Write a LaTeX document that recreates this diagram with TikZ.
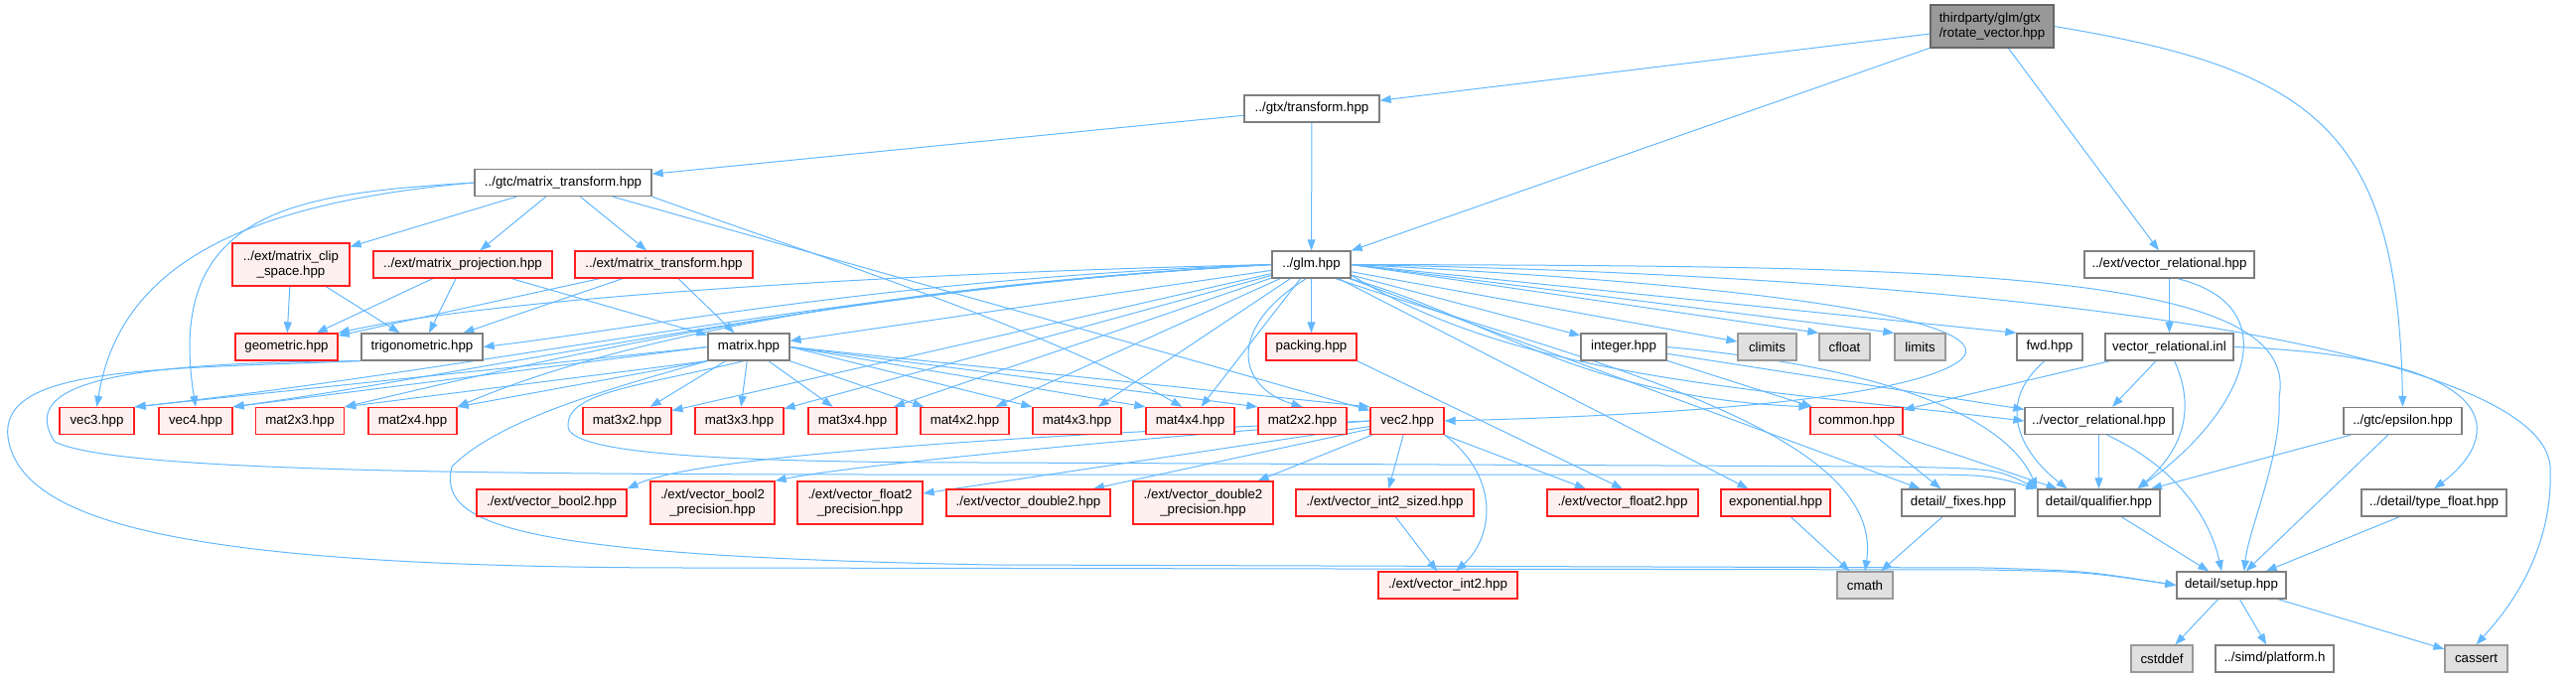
\documentclass[tikz,border=0pt]{standalone}
\usepackage{fontspec}
\setmainfont{Liberation Sans}
\usepackage{xcolor}
\usepackage{tikz}
\usetikzlibrary{arrows.meta, backgrounds}
\definecolor{doxy-edge}{HTML}{63B8FF}
\definecolor{doxy-red}{HTML}{FF2020}
\definecolor{doxy-pink}{HTML}{FFF0F0}
\definecolor{doxy-border}{HTML}{7F7F7F}
\definecolor{doxy-sys}{HTML}{E0E0E0}
\definecolor{doxy-sysline}{HTML}{999999}
\definecolor{doxy-root}{HTML}{999999}
\newcommand{\hdrfont}{\fontsize{13.3}{15.5}\selectfont}
\tikzset{
  hdr/.style={draw, line width=1.3pt, minimum height=27pt, inner sep=2pt, align=center, font=\hdrfont},
  plainhdr/.style={hdr, draw=doxy-border, fill=white},
  trunc/.style={hdr, draw=doxy-red, fill=doxy-pink},
  syshdr/.style={hdr, draw=doxy-sysline, fill=doxy-sys},
  roothdr/.style={hdr, draw=doxy-border!80!black, fill=doxy-root, minimum height=43pt, align=left},
  twoline/.style={minimum height=43pt},
  incl/.style={draw=doxy-edge, line width=1pt, -{Triangle[length=11pt, width=8pt]}}
}

\begin{document}
\begin{tikzpicture}[x=1pt, y=-1pt]
  \useasboundingbox (0,0) rectangle (2594,683);
  % top of the graph
  \node[roothdr, minimum width=124pt] (root) at (2006,26.5) {thirdparty/glm/gtx\\/rotate\_vector.hpp};
  \node[plainhdr, minimum width=136pt] (gtxtransform) at (1321,109.5) {../gtx/transform.hpp};
  \node[plainhdr, minimum width=178pt] (gtcmt) at (567,184) {../gtc/matrix\_transform.hpp};
  % row 3
  \node[trunc, twoline, minimum width=118pt] (clipspace) at (293,266.5) {../ext/matrix\_clip\\\_space.hpp};
  \node[trunc, minimum width=180pt] (projection) at (466,266.5) {../ext/matrix\_projection.hpp};
  \node[trunc, minimum width=179pt] (extmt) at (668.5,266.5) {../ext/matrix\_transform.hpp};
  \node[plainhdr, minimum width=79pt] (glm) at (1320.5,266.5) {../glm.hpp};
  \node[plainhdr, minimum width=171pt] (extvr) at (2184.5,266.5) {../ext/vector\_relational.hpp};
  % row 4
  \node[trunc, minimum width=103pt] (geometric) at (288.5,349.5) {geometric.hpp};
  \node[plainhdr, minimum width=122pt] (trigonometric) at (425,349.5) {trigonometric.hpp};
  \node[plainhdr, minimum width=82pt] (matrix) at (754,349.5) {matrix.hpp};
  \node[trunc, minimum width=91pt] (packing) at (1320.5,349.5) {packing.hpp};
  \node[plainhdr, minimum width=86pt] (integer) at (1635,349.5) {integer.hpp};
  \node[syshdr, minimum width=59pt] (climits) at (1779.5,349.5) {climits};
  \node[syshdr, minimum width=51pt] (cfloat) at (1857.5,349.5) {cfloat};
  \node[syshdr, minimum width=51pt] (limits) at (1933.5,349.5) {limits};
  \node[plainhdr, minimum width=66pt] (fwd) at (2064,349.5) {fwd.hpp};
  \node[plainhdr, minimum width=129pt] (vrinl) at (2184.5,349.5) {vector\_relational.inl};
  % row 5
  \node[trunc, minimum width=75pt] (vec3) at (97.5,424) {vec3.hpp};
  \node[trunc, minimum width=74pt] (vec4) at (197,424) {vec4.hpp};
  \foreach \n/\x in {2x3/302, 2x4/415.5, 3x2/631.5, 3x3/744.5, 3x4/858.5, 4x2/971.5, 4x3/1084.5, 4x4/1198.5, 2x2/1311.5}
    \node[trunc, minimum width=89pt] (mat\n) at (\x,424) {mat\n.hpp};
  \node[trunc, minimum width=74pt] (vec2) at (1417,424) {vec2.hpp};
  \node[trunc, minimum width=93pt] (common) at (1869.5,424) {common.hpp};
  \node[plainhdr, minimum width=149pt] (vr) at (2113.5,424) {../vector\_relational.hpp};
  \node[plainhdr, minimum width=119pt] (epsilon) at (2419.5,424) {../gtc/epsilon.hpp};
  % row 6
  \node[trunc, minimum width=151pt] (bool2) at (555.5,506.5) {./ext/vector\_bool2.hpp};
  \node[trunc, twoline, minimum width=125pt] (bool2p) at (717.5,506.5) {./ext/vector\_bool2\\\_precision.hpp};
  \node[trunc, twoline, minimum width=126pt] (float2p) at (866,506.5) {./ext/vector\_float2\\\_precision.hpp};
  \node[trunc, minimum width=165pt] (double2) at (1035.5,506.5) {./ext/vector\_double2.hpp};
  \node[trunc, twoline, minimum width=141pt] (double2p) at (1211.5,506.5) {./ext/vector\_double2\\\_precision.hpp};
  \node[trunc, minimum width=179pt] (int2sized) at (1394.5,506.5) {./ext/vector\_int2\_sized.hpp};
  \node[trunc, minimum width=152pt] (float2) at (1634,506.5) {./ext/vector\_float2.hpp};
  \node[trunc, minimum width=110pt] (exponential) at (1788,506.5) {exponential.hpp};
  \node[plainhdr, minimum width=114pt] (fixes) at (1972,506.5) {detail/\_fixes.hpp};
  \node[plainhdr, minimum width=123pt] (qualifier) at (2113.5,506.5) {detail/qualifier.hpp};
  \node[plainhdr, minimum width=146pt] (typefloat) at (2451,506.5) {../detail/type\_float.hpp};
  % rows 7 and 8
  \node[trunc, minimum width=140pt] (int2) at (1458,589.5) {./ext/vector\_int2.hpp};
  \node[syshdr, minimum width=56pt] (cmath) at (1878,589.5) {cmath};
  \node[plainhdr, minimum width=110pt] (setup) at (2247,589.5) {detail/setup.hpp};
  \node[syshdr, minimum width=62pt] (cstddef) at (2177,663.5) {cstddef};
  \node[plainhdr, minimum width=119pt] (platform) at (2290.5,663.5) {../simd/platform.h};
  \node[syshdr, minimum width=63pt] (cassert) at (2493.5,663.5) {cassert};

  \begin{pgfonlayer}{background}
    % rotate_vector.hpp and gtx/transform.hpp
    \foreach \t in {gtxtransform, glm, extvr} \draw[incl] (root) -- (\t);
    \draw[incl] (root.east) .. controls (2330,70) and (2415,130) .. (epsilon.north);
    \foreach \t in {gtcmt, glm} \draw[incl] (gtxtransform) -- (\t);
    % gtc/matrix_transform.hpp
    \foreach \t in {clipspace, projection, extmt, vec2} \draw[incl] (gtcmt) -- (\t);
    \draw[incl] (gtcmt.west) .. controls (240,205) and (120,270) .. (vec3.north);
    \draw[incl] (gtcmt.west) .. controls (300,195) and (165,210) .. (vec4.north);
    \draw[incl] (gtcmt.south east) .. controls (800,250) and (1050,330) .. (mat4x4.120);
    \foreach \s in {clipspace, projection, extmt}
      \foreach \t in {geometric, trigonometric} \draw[incl] (\s) -- (\t);
    \foreach \s in {projection, extmt} \draw[incl] (\s) -- (matrix);
    % glm.hpp
    \draw[incl] (glm.west) .. controls (900,275) and (500,300) .. (geometric.north east);
    \draw[incl] (glm.west) .. controls (900,280) and (650,330) .. (trigonometric.east);
    \draw[incl] (glm.west) .. controls (850,290) and (500,370) .. (vec3.north east);
    \draw[incl] (glm.west) .. controls (850,290) and (520,370) .. (vec4.north east);
    \draw[incl] (glm.west) .. controls (850,290) and (560,360) .. (mat2x3.north east);
    \draw[incl] (glm.west) .. controls (850,290) and (600,350) .. (mat2x4.north east);
    \foreach \t in {matrix, mat3x2, mat3x3, mat3x4, mat4x2, mat4x3, mat4x4, packing, integer, climits, exponential, fixes}
      \draw[incl] (glm) -- (\t);
    \foreach \t in {cfloat, limits, fwd} \draw[incl] (glm.east) -- (\t.north west);
    \draw[incl] (glm.250) .. controls (1235,330) and (1245,390) .. (mat2x2.north);
    \draw[incl] (glm.-20) .. controls (1500,320) and (1590,400) .. (common.north west);
    \draw[incl] (glm.-15) .. controls (1530,380) and (1750,390) .. (vr.west);
    \draw[incl] (glm.east) .. controls (1850,290) and (2010,330) .. (1975,362)
      .. controls (1930,400) and (1700,418) .. (vec2.east);
    \draw[incl] (glm.-30) .. controls (1580,360) and (1900,430) .. (cmath.north);
    \draw[incl] (glm.east) .. controls (1950,268) and (2320,270) .. (2295,400)
      .. controls (2298,460) and (2265,530) .. (setup.48);
    \draw[incl] (glm.east) .. controls (2100,280) and (2560,360) .. (2568,470)
      .. controls (2572,560) and (2520,620) .. (cassert.north);
    % matrix.hpp
    \foreach \t in {vec3, vec4} \draw[incl] (matrix.west) -- (\t.north east);
    \foreach \t in {mat2x3, mat2x4} \draw[incl] (matrix.south west) -- (\t.north east);
    \foreach \t in {mat3x2, mat3x3, mat3x4, mat4x2} \draw[incl] (matrix) -- (\t);
    \foreach \t in {mat4x3, mat4x4, mat2x2, vec2} \draw[incl] (matrix.east) -- (\t.north west);
    \draw[incl] (matrix.south west) .. controls (600,395) and (500,425) .. (455,470)
      .. controls (440,530) and (520,560) .. (1000,569) -- (2000,572) .. controls (2100,575) .. (setup.west);
    \draw[incl] (matrix.250) .. controls (640,390) and (570,395) .. (572,430)
      .. controls (575,455) and (700,466) .. (1000,466) -- (1900,470) .. controls (2010,472) .. (qualifier.north west);
    % trigonometric.hpp
    \draw[incl] (trigonometric.south west) .. controls (150,372) and (0,370) .. (8,440)
      .. controls (20,530) and (200,572) .. (700,572) -- (2000,574) .. controls (2100,576) .. (setup.west);
    \draw[incl] (trigonometric.south west) .. controls (100,365) and (20,390) .. (55,445)
      .. controls (110,472) and (400,478) .. (900,478) -- (1900,478) .. controls (2000,478) .. (qualifier.north west);
    % vec2.hpp
    \draw[incl] (vec2.west) .. controls (1000,440) and (700,460) .. (bool2.north east);
    \draw[incl] (vec2.west) .. controls (1100,445) and (850,470) .. (bool2p.north east);
    \foreach \t in {float2p, double2, double2p, int2sized, float2} \draw[incl] (vec2) -- (\t);
    \draw[incl] (vec2.south east) .. controls (1510,480) and (1505,540) .. (int2.60);
    \draw[incl] (int2sized) -- (int2);
    \draw[incl] (packing.south east) -- (float2.north);
    % relational headers and details
    \draw[incl] (extvr) -- (vrinl);
    \draw[incl] (extvr.-60) .. controls (2310,310) and (2255,420) .. (qualifier.20);
    \foreach \t in {common, vr} \draw[incl] (vrinl) -- (\t);
    \draw[incl] (vrinl.-70) .. controls (2215,420) and (2190,460) .. (qualifier.20);
    \draw[incl] (vrinl.east) .. controls (2530,360) and (2520,440) .. (typefloat.north);
    \draw[incl] (fwd.250) .. controls (2005,410) and (2040,460) .. (qualifier.156);
    \foreach \t in {common, vr} \draw[incl] (integer) -- (\t);
    \draw[incl] (integer.east) .. controls (1900,370) and (2020,420) .. (qualifier.north west);
    \foreach \t in {fixes, qualifier} \draw[incl] (common) -- (\t);
    \foreach \s in {exponential, fixes} \draw[incl] (\s) -- (cmath);
    \draw[incl] (vr) -- (qualifier);
    \draw[incl] (vr.-60) .. controls (2190,470) and (2225,520) .. (setup.125);
    \foreach \s in {qualifier, typefloat, epsilon} \draw[incl] (\s) -- (setup);
    \draw[incl] (epsilon) -- (qualifier);
    \foreach \t in {cstddef, platform, cassert} \draw[incl] (setup) -- (\t);
  \end{pgfonlayer}
\end{tikzpicture}
\end{document}
